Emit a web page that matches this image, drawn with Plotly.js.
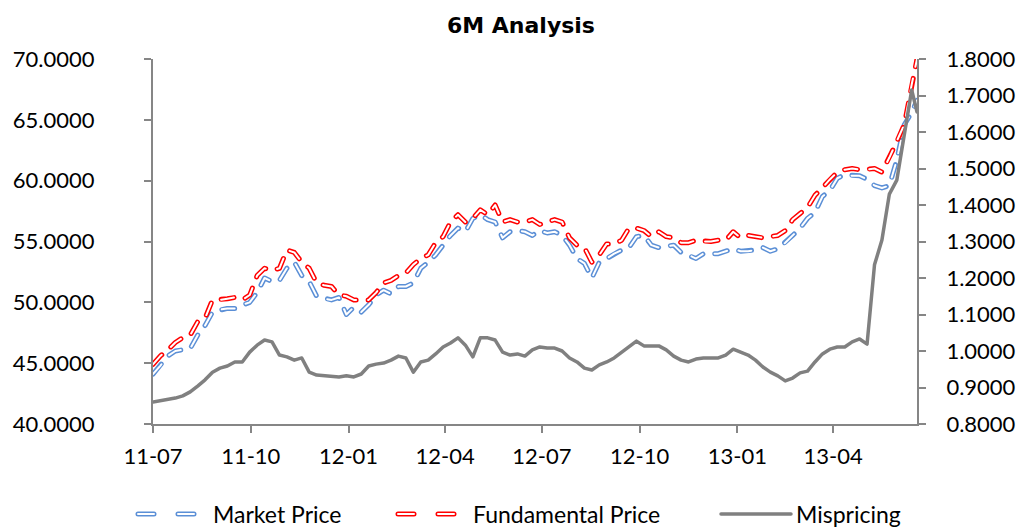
<!DOCTYPE html>
<html>
<head>
<meta charset="utf-8">
<script src="https://cdn.plot.ly/plotly-3.0.1.min.js"></script>
<style>
  body { margin: 0; background: #fff; }
  #chart { width: 1031px; height: 531px; }
  .js-line { stroke-linecap: round; stroke-linejoin: round; }
</style>
</head>
<body>
<div id="chart"></div>
<script>
// weekly observations
const dates = [
  '2011-07-01','2011-07-08','2011-07-15','2011-07-22','2011-07-29','2011-08-05','2011-08-12','2011-08-19','2011-08-26','2011-09-02',
  '2011-09-09','2011-09-16','2011-09-23','2011-09-30','2011-10-07','2011-10-14','2011-10-21','2011-10-28','2011-11-04','2011-11-11',
  '2011-11-18','2011-11-25','2011-12-02','2011-12-09','2011-12-16','2011-12-23','2011-12-30',
  '2012-01-06','2012-01-13','2012-01-20','2012-01-27','2012-02-03','2012-02-10','2012-02-17','2012-02-24','2012-03-02','2012-03-09',
  '2012-03-16','2012-03-23','2012-03-30','2012-04-06','2012-04-13','2012-04-20','2012-04-27','2012-05-04','2012-05-11','2012-05-18',
  '2012-05-25','2012-06-01','2012-06-08','2012-06-15','2012-06-22','2012-06-29','2012-07-06','2012-07-13','2012-07-20','2012-07-27',
  '2012-08-03','2012-08-10','2012-08-17','2012-08-24','2012-08-31','2012-09-07','2012-09-14','2012-09-21','2012-09-28','2012-10-05',
  '2012-10-12','2012-10-19','2012-10-26','2012-11-02','2012-11-09','2012-11-16','2012-11-23','2012-11-30','2012-12-07','2012-12-14',
  '2012-12-21','2012-12-28',
  '2013-01-04','2013-01-11','2013-01-18','2013-01-25','2013-02-01','2013-02-08','2013-02-15','2013-02-22','2013-03-01','2013-03-08',
  '2013-03-15','2013-03-22','2013-03-29','2013-04-05','2013-04-12','2013-04-19','2013-04-26','2013-05-03','2013-05-10','2013-05-17',
  '2013-05-24','2013-05-31','2013-06-07','2013-06-14','2013-06-19'
];

const marketPrice = [
  44.1, 44.8, 45.6, 46.0, 46.1, 46.2, 47.3, 48.1, 49.2, 49.4,
  49.5, 49.5, 49.8, 50.0, 50.8, 52.0, 51.7, 51.8, 52.8, 53.3,
  52.2, 51.7, 50.5, 50.3, 50.2, 50.4, 49.0,
  49.6, 49.2, 49.8, 50.6, 51.0, 50.7, 51.3, 51.3, 51.6, 52.8,
  53.3, 53.9, 54.7, 55.5, 56.1, 55.8, 56.9, 57.2, 56.8, 56.6,
  55.3, 55.8, 55.9, 55.8, 55.5, 55.9, 55.7, 55.8, 55.5, 54.7,
  53.6, 53.2, 52.0, 53.3, 53.6, 54.0, 54.3, 54.5, 55.4, 55.5,
  54.7, 54.5, 54.6, 54.7, 54.1, 53.9, 53.6, 54.0, 54.0, 54.0,
  54.2, 54.4,
  54.2, 54.2, 54.3, 54.5, 54.2, 54.4, 54.9, 55.5, 56.1, 56.9,
  57.4, 58.7, 59.2, 60.2, 60.5, 60.4, 60.4, 60.1, 59.6, 59.4,
  59.6, 61.7, 64.6, 65.6, 66.6
];

const fundamentalPrice = [
  44.9, 45.6, 46.1, 46.7, 47.1, 47.3, 48.4, 48.7, 50.2, 50.2,
  50.3, 50.4, 50.2, 50.6, 52.2, 52.8, 52.6, 52.8, 54.3, 54.1,
  53.3, 52.8, 51.6, 51.4, 51.3, 50.6, 50.5,
  50.2, 50.2, 50.2, 50.8, 51.6, 51.8, 52.2, 52.4, 53.1, 53.6,
  53.9, 54.9, 55.4, 56.6, 57.2, 56.6, 56.9, 57.6, 57.2, 58.0,
  56.6, 56.8, 56.6, 56.6, 56.8, 56.4, 56.6, 56.8, 56.6, 55.3,
  54.7, 54.5, 53.3, 53.9, 54.8, 54.8, 55.1, 56.1, 56.1, 55.9,
  55.4, 55.8, 55.4, 55.3, 54.9, 54.9, 55.1, 55.0, 55.0, 55.1,
  55.1, 55.8,
  55.3, 55.5, 55.4, 55.3, 55.4, 55.5, 55.9, 56.8, 57.3, 57.8,
  58.8, 59.4, 60.1, 60.7, 60.9, 61.0, 60.9, 60.9, 61.0, 60.7,
  61.9, 63.2, 64.6, 67.9, 70.0
];

const mispricing = [
  0.860, 0.863, 0.868, 0.871, 0.877, 0.888, 0.904, 0.921, 0.942, 0.953,
  0.959, 0.970, 0.970, 0.997, 1.016, 1.030, 1.025, 0.989, 0.984, 0.975,
  0.981, 0.942, 0.934, 0.932, 0.929, 0.929, 0.932,
  0.929, 0.937, 0.959, 0.964, 0.967, 0.975, 0.986, 0.981, 0.942, 0.970,
  0.975, 0.992, 1.011, 1.022, 1.036, 1.016, 0.984, 1.036, 1.036, 1.030,
  0.997, 0.989, 0.992, 0.986, 1.003, 1.011, 1.008, 1.008, 1.000, 0.981,
  0.970, 0.953, 0.948, 0.962, 0.970, 0.981, 0.997, 1.014, 1.027, 1.014,
  1.014, 1.014, 1.003, 0.986, 0.975, 0.970, 0.978, 0.981, 0.981, 0.981,
  0.989, 1.005,
  0.997, 0.989, 0.975, 0.956, 0.942, 0.932, 0.918, 0.926, 0.940, 0.945,
  0.970, 0.992, 1.005, 1.011, 1.011, 1.025, 1.033, 1.019, 1.236, 1.304,
  1.430, 1.468, 1.592, 1.715, 1.655
];

const dashPattern = '13px,12px';
const axisGrey = '#868686';
const misGrey = '#808080';

// Excel style "double" dashed line: wide coloured dash with a thin white core
function doubleDash(name, y, color, legendId) {
  return [
    { x: dates, y: y, name: name, type: 'scatter', mode: 'lines', legend: legendId,
      line: { color: color, width: 5, dash: dashPattern } },
    { x: dates, y: y, name: name, type: 'scatter', mode: 'lines', showlegend: false,
      line: { color: '#ffffff', width: 2, dash: dashPattern } }
  ];
}

const traces = [
  ...doubleDash('Market Price', marketPrice, '#5B8FD6', 'legend'),
  ...doubleDash('Fundamental Price', fundamentalPrice, '#FF0000', 'legend2'),
  { x: dates, y: mispricing, name: 'Mispricing', type: 'scatter', mode: 'lines', yaxis: 'y2',
    legend: 'legend3', line: { color: misGrey, width: 3.5 } }
];

const axisStyle = {
  showline: true, linecolor: axisGrey, linewidth: 2,
  ticks: 'outside', ticklen: 7, tickwidth: 2, tickcolor: axisGrey,
  showgrid: false, zeroline: false,
  tickfont: { family: 'Lato, sans-serif', size: 22, color: '#000000' }
};

// one legend per series so each key sits where the original puts it
function legendAt(px) {
  return {
    orientation: 'h',
    xref: 'container', x: px / 1031, xanchor: 'left',
    yref: 'container', y: 0.032, yanchor: 'middle',
    itemwidth: 70,
    bgcolor: 'rgba(0,0,0,0)',
    font: { family: 'Lato, sans-serif', size: 23, color: '#000000' }
  };
}

const layout = {
  width: 1031, height: 531,
  margin: { l: 153, r: 114, t: 59, b: 107 },
  paper_bgcolor: '#ffffff', plot_bgcolor: '#ffffff',
  font: { family: 'Lato, sans-serif', size: 22, color: '#000000' },
  title: {
    text: '<b>6M Analysis</b>',
    font: { family: 'DejaVu Sans, sans-serif', size: 22, color: '#000000' },
    xref: 'container', x: 0.5053, xanchor: 'center',
    yref: 'container', y: 0.952, yanchor: 'middle'
  },
  xaxis: Object.assign({}, axisStyle, {
    type: 'date', range: ['2011-07-01', '2013-06-19'],
    tick0: '2011-07-01', dtick: 'M3', tickformat: '%y-%m',
    ticklabelstandoff: 5
  }),
  yaxis: Object.assign({}, axisStyle, {
    range: [40, 70], tick0: 40, dtick: 5, tickformat: '.4f',
    ticklabelstandoff: 45
  }),
  yaxis2: Object.assign({}, axisStyle, {
    overlaying: 'y', side: 'right',
    range: [0.8, 1.8], tick0: 0.8, dtick: 0.1, tickformat: '.4f',
    ticklabelstandoff: 16
  }),
  showlegend: true,
  legend: legendAt(133),
  legend2: legendAt(393),
  legend3: legendAt(716)
};

Plotly.newPlot('chart', traces, layout, { staticPlot: true }).then(gd => {
  // legend keys of the dashed series: two long dashes with the same white core
  gd.querySelectorAll('.legendlines path').forEach(p => {
    const stroke = p.style.stroke;
    if (!stroke || stroke.indexOf('128, 128, 128') >= 0) return;
    p.style.strokeDasharray = '16px,24px';
    const core = p.cloneNode(true);
    core.style.stroke = '#ffffff';
    core.style.strokeWidth = '2px';
    p.parentNode.appendChild(core);
  });
});
</script>
</body>
</html>
